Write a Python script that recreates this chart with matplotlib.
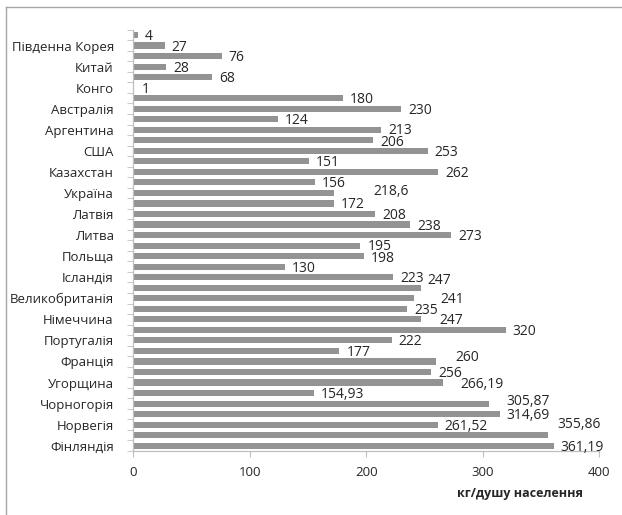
import matplotlib
matplotlib.use("Agg")
import matplotlib.pyplot as plt
import numpy as np
from matplotlib.lines import Line2D

plt.rcParams['font.family'] = ['Open Sans', 'DejaVu Sans']

# categories from top to bottom; Excel showed only every other name
categories = ['', 'Південна Корея', '', 'Китай', '', 'Конго', '', 'Австралія',
              '', 'Аргентина', '', 'США', '', 'Казахстан', '', 'Україна',
              '', 'Латвія', '', 'Литва', '', 'Польща', '', 'Ісландія',
              '', 'Великобританія', '', 'Німеччина', '', 'Португалія',
              '', 'Франція', '', 'Угорщина', '', 'Чорногорія', '', 'Норвегія',
              '', 'Фінляндія']

values = [4, 27, 76, 28, 68, 1, 180, 230, 124, 213, 206, 253, 151, 262, 156,
          172, 172, 208, 238, 273, 195, 198, 130, 223, 247, 241, 235, 247,
          320, 222, 177, 260, 256, 266.19, 154.93, 305.87, 314.69, 261.52,
          355.86, 361.19]

value_labels = ['4', '27', '76', '28', '68', '1', '180', '230', '124', '213',
                '206', '253', '151', '262', '156', '218,6', '172', '208',
                '238', '273', '195', '198', '130', '223', '247', '241', '235',
                '247', '320', '222', '177', '260', '256', '266,19', '154,93',
                '305,87', '314,69', '261,52', '355,86', '361,19']

xlabel = 'кг/душу населення'

bar_color = '#939393'
text_color = '#262626'
axis_color = '#bfbfbf'

fig = plt.figure(figsize=(6.22, 5.15), dpi=100)
ax = fig.add_axes([0.2143, 0.1243, 0.7487, 0.818])

y = np.arange(len(values))
ax.barh(y, values, height=0.58, color=bar_color)
ax.set_ylim(len(values) - 0.5, -0.5)
ax.set_xlim(0, 400)

# data labels, a few were moved by hand in the original (dx right, dy down, px)
shifts = {9: (0, -1), 10: (0, 1), 15: (33, -3), 20: (0, -1), 21: (0, 1),
          24: (0, -9), 25: (20, 0), 27: (12, 0), 31: (12, -5),
          33: (10, 0), 35: (10, -4), 38: (3, -12)}
for i, (v, lab) in enumerate(zip(values, value_labels)):
    dx, dy = shifts.get(i, (0, 0))
    ax.annotate(lab, xy=(v, i), xytext=(7 + dx, -1.5 - dy),
                textcoords='offset pixels', va='center', ha='left',
                fontsize=10, color=text_color)

ax.set_yticks(y)
ax.set_yticklabels(categories, fontsize=9.5, color=text_color)
ax.tick_params(axis='y', which='major', length=0, pad=14)
ax.set_yticks(np.arange(len(values) + 1) - 0.5, minor=True)
ax.tick_params(axis='y', which='minor', length=4, color=axis_color, direction='out')

ax.set_xticks([0, 100, 200, 300, 400])
ax.tick_params(axis='x', length=4, color=axis_color, labelsize=9.5,
               labelcolor=text_color, pad=7)

for s in ['top', 'right']:
    ax.spines[s].set_visible(False)
for s in ['left', 'bottom']:
    ax.spines[s].set_color(axis_color)
    ax.spines[s].set_linewidth(0.9)

fig.text(520 / 622, 1 - 493 / 515, xlabel, ha='center', va='center',
         fontsize=9, fontweight='bold', color=text_color)

# chart area border (only top and left edge visible in the crop)
fig.add_artist(Line2D([6 / 622, 1], [1 - 7 / 515, 1 - 7 / 515],
                      transform=fig.transFigure, color='#a6a6a6', lw=1))
fig.add_artist(Line2D([6 / 622, 6 / 622], [0, 1 - 7 / 515],
                      transform=fig.transFigure, color='#a6a6a6', lw=1))

fig.savefig('out.png', dpi=100)
